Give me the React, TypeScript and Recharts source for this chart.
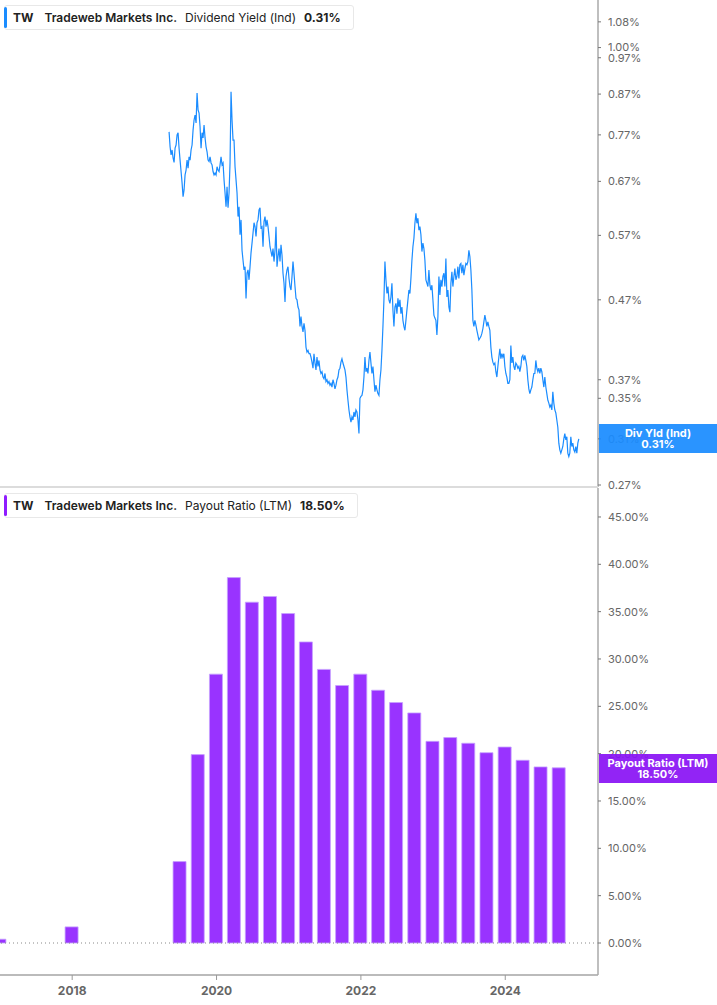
import React from 'react';
import { LineChart, Line, ComposedChart, Bar, XAxis, YAxis, ReferenceLine } from 'recharts';

const FONT = 'Inter, "Noto Sans", sans-serif';

// Dividend yield (Ind), %, sampled evenly between the first and last date
const yieldFirstDate = '2019-05-06';
const yieldLastDate = '2025-01-08';
const yieldValues = [
  0.777, 0.743, 0.725, 0.736, 0.719, 0.709, 0.740, 0.747, 0.770, 0.775,
  0.740, 0.714, 0.690, 0.667, 0.640, 0.653, 0.683, 0.693, 0.714, 0.697,
  0.721, 0.714, 0.736, 0.747, 0.781, 0.805, 0.817, 0.798, 0.873, 0.830,
  0.822, 0.789, 0.740, 0.775, 0.763, 0.793, 0.763, 0.743, 0.732, 0.714,
  0.711, 0.721, 0.708, 0.704, 0.690, 0.683, 0.687, 0.683, 0.700, 0.693,
  0.690, 0.704, 0.721, 0.704, 0.708, 0.673, 0.647, 0.621, 0.659, 0.619,
  0.647, 0.708, 0.876, 0.805, 0.758, 0.758, 0.700, 0.673, 0.647, 0.603,
  0.621, 0.571, 0.597, 0.545, 0.529, 0.514, 0.519, 0.472, 0.509, 0.514,
  0.499, 0.519, 0.541, 0.557, 0.574, 0.592, 0.585, 0.568, 0.592, 0.597,
  0.615, 0.619, 0.583, 0.585, 0.551, 0.594, 0.603, 0.585, 0.597, 0.585,
  0.568, 0.551, 0.543, 0.535, 0.548, 0.527, 0.545, 0.585, 0.519, 0.535,
  0.548, 0.527, 0.554, 0.537, 0.509, 0.494, 0.467, 0.504, 0.514, 0.519,
  0.501, 0.489, 0.484, 0.504, 0.527, 0.509, 0.489, 0.472, 0.470, 0.460,
  0.456, 0.434, 0.447, 0.434, 0.427, 0.438, 0.429, 0.408, 0.402, 0.404,
  0.400, 0.400, 0.396, 0.390, 0.383, 0.400, 0.389, 0.381, 0.396, 0.385,
  0.392, 0.381, 0.377, 0.379, 0.373, 0.371, 0.377, 0.368, 0.370, 0.366,
  0.368, 0.364, 0.366, 0.362, 0.370, 0.366, 0.360, 0.364, 0.370, 0.373,
  0.381, 0.383, 0.390, 0.394, 0.389, 0.385, 0.381, 0.373, 0.359, 0.348,
  0.338, 0.331, 0.326, 0.331, 0.328, 0.336, 0.331, 0.338, 0.336, 0.328,
  0.315, 0.350, 0.352, 0.353, 0.359, 0.373, 0.396, 0.379, 0.383, 0.377,
  0.392, 0.402, 0.389, 0.377, 0.385, 0.370, 0.357, 0.364, 0.359, 0.355,
  0.353, 0.370, 0.381, 0.404, 0.434, 0.470, 0.527, 0.499, 0.479, 0.489,
  0.470, 0.465, 0.474, 0.494, 0.456, 0.434, 0.460, 0.465, 0.451, 0.472,
  0.460, 0.470, 0.451, 0.460, 0.442, 0.434, 0.429, 0.442, 0.456, 0.470,
  0.484, 0.479, 0.501, 0.529, 0.551, 0.565, 0.591, 0.609, 0.591, 0.600,
  0.579, 0.585, 0.571, 0.543, 0.557, 0.548, 0.529, 0.499, 0.494, 0.489,
  0.514, 0.491, 0.484, 0.491, 0.470, 0.449, 0.445, 0.442, 0.423, 0.447,
  0.504, 0.477, 0.499, 0.489, 0.504, 0.509, 0.489, 0.532, 0.474, 0.484,
  0.460, 0.453, 0.494, 0.511, 0.489, 0.504, 0.516, 0.499, 0.504, 0.519,
  0.501, 0.522, 0.524, 0.509, 0.522, 0.506, 0.516, 0.524, 0.522, 0.527,
  0.545, 0.535, 0.514, 0.484, 0.442, 0.434, 0.442, 0.436, 0.429, 0.423,
  0.417, 0.419, 0.421, 0.425, 0.431, 0.440, 0.449, 0.442, 0.434, 0.440,
  0.434, 0.429, 0.408, 0.396, 0.390, 0.387, 0.389, 0.379, 0.373, 0.385,
  0.396, 0.406, 0.394, 0.400, 0.396, 0.400, 0.385, 0.377, 0.373, 0.366,
  0.366, 0.370, 0.410, 0.389, 0.396, 0.385, 0.381, 0.389, 0.387, 0.383,
  0.385, 0.379, 0.385, 0.396, 0.398, 0.392, 0.398, 0.392, 0.385, 0.370,
  0.360, 0.355, 0.359, 0.362, 0.370, 0.377, 0.377, 0.392, 0.383, 0.379,
  0.383, 0.377, 0.383, 0.379, 0.370, 0.362, 0.373, 0.362, 0.355, 0.348,
  0.345, 0.341, 0.343, 0.338, 0.357, 0.345, 0.338, 0.335, 0.328, 0.321,
  0.306, 0.300, 0.297, 0.300, 0.303, 0.310, 0.315, 0.309, 0.312, 0.297,
  0.294, 0.297, 0.312, 0.303, 0.306, 0.300, 0.298, 0.303, 0.297, 0.306,
  0.310,
];
const yieldTicks = [0.27, 0.31, 0.35, 0.37, 0.47, 0.57, 0.67, 0.77, 0.87, 0.97, 1.0, 1.08];

// Payout ratio (LTM), %, quarter ends
const payoutDates = [
  '2016-12-31', '2017-12-31',
  '2019-06-30', '2019-09-30', '2019-12-31',
  '2020-03-31', '2020-06-30', '2020-09-30', '2020-12-31',
  '2021-03-31', '2021-06-30', '2021-09-30', '2021-12-31',
  '2022-03-31', '2022-06-30', '2022-09-30', '2022-12-31',
  '2023-03-31', '2023-06-30', '2023-09-30', '2023-12-31',
  '2024-03-31', '2024-06-30', '2024-09-30',
];
const payoutValues = [
  0.4, 1.7,
  8.6, 19.9, 28.4,
  38.6, 36.0, 36.6, 34.8,
  31.8, 28.9, 27.2, 28.4,
  26.7, 25.4, 24.3, 21.3,
  21.7, 21.1, 20.1, 20.7,
  19.3, 18.6, 18.5,
];
const payoutTicks = [0, 5, 10, 15, 20, 25, 30, 35, 40, 45];
const yearTicks = [2018, 2020, 2022, 2024];

const X_DOMAIN: [number, number] = [2017.0, 2025.285];

function toYear(iso: string) {
  const d = new Date(iso + 'T00:00:00Z');
  const y = d.getUTCFullYear();
  const start = Date.UTC(y, 0, 1);
  const end = Date.UTC(y + 1, 0, 1);
  return y + (d.getTime() - start) / (end - start);
}

const y0 = toYear(yieldFirstDate);
const y1 = toYear(yieldLastDate);
const yieldData = yieldValues.map((v, i) => ({
  t: y0 + ((y1 - y0) * i) / (yieldValues.length - 1),
  v,
}));
const payoutData = payoutDates.map((d, i) => ({ t: toYear(d), v: payoutValues[i] }));

const tickStyle = { fill: '#666', fontSize: 11, fontFamily: FONT };

function LegendBox({ color, metric, value, top }: { color: string; metric: string; value: string; top: number }) {
  return (
    <div
      style={{
        position: 'absolute',
        left: 4,
        top,
        height: 25,
        display: 'flex',
        alignItems: 'center',
        gap: 8,
        padding: '0 12px 0 8px',
        background: '#fff',
        border: '1px solid #e8e8e8',
        borderRadius: 3,
        fontFamily: FONT,
        fontSize: 12,
        color: '#222',
        boxSizing: 'border-box',
      }}
    >
      <div style={{ position: 'absolute', left: -1, top: 1, bottom: 1, width: 3, background: color, borderRadius: 2 }} />
      <span style={{ fontWeight: 700, marginRight: 3 }}>TW</span>
      <span style={{ fontWeight: 600 }}>Tradeweb Markets Inc.</span>
      <span style={{ fontWeight: 400 }}>{metric}</span>
      <span style={{ fontWeight: 700 }}>{value}</span>
    </div>
  );
}

function ValueTag({ color, title, value, top }: { color: string; title: string; value: string; top: number }) {
  return (
    <div
      style={{
        position: 'absolute',
        left: 599,
        top,
        width: 118,
        height: 29,
        background: color,
        opacity: 0.93,
        color: '#fff',
        fontFamily: FONT,
        fontSize: 11,
        fontWeight: 700,
        lineHeight: '11px',
        display: 'flex',
        flexDirection: 'column',
        alignItems: 'center',
        justifyContent: 'center',
      }}
    >
      <div>{title}</div>
      <div>{value}</div>
    </div>
  );
}

export default function App() {
  return (
    <div style={{ position: 'absolute', left: 0, top: 0, width: 717, height: 1005, background: '#fff', overflow: 'hidden' }}>
      <div style={{ position: 'absolute', left: 0, top: 0 }}>
        <LineChart width={717} height={497} data={yieldData} margin={{ top: 0, right: 0, bottom: 10, left: 0 }}>
          <XAxis type="number" dataKey="t" domain={X_DOMAIN} allowDataOverflow hide />
          <YAxis
            orientation="right"
            width={119}
            type="number"
            scale="log"
            domain={[0.2684, 1.153]}
            allowDataOverflow
            ticks={yieldTicks}
            interval={0}
            tickFormatter={(v: number) => v.toFixed(2) + '%'}
            tick={tickStyle}
            tickSize={3}
            tickMargin={7}
            axisLine={{ stroke: '#aaa', strokeWidth: 1.5 }}
            tickLine={{ stroke: '#777' }}
          />
          <Line
            type="linear"
            dataKey="v"
            stroke="#1a8cff"
            strokeWidth={1.2}
            dot={false}
            activeDot={false}
            isAnimationActive={false}
          />
        </LineChart>
      </div>

      <div style={{ position: 'absolute', left: 0, top: 486, width: 598, height: 2, background: '#dcdcdc' }} />

      <div style={{ position: 'absolute', left: 0, top: 488 }}>
        <ComposedChart width={717} height={517} data={payoutData} margin={{ top: 0, right: 0, bottom: 0, left: 0 }}>
          <XAxis
            type="number"
            dataKey="t"
            domain={X_DOMAIN}
            allowDataOverflow
            ticks={yearTicks}
            interval={0}
            height={30}
            tickFormatter={(v: number) => String(v)}
            tick={{ fill: '#666', fontSize: 12, fontWeight: 700, fontFamily: FONT }}
            tickSize={5}
            tickMargin={6}
            axisLine={{ stroke: '#bbb', strokeWidth: 2 }}
            tickLine={{ stroke: '#999' }}
          />
          <YAxis
            orientation="right"
            width={119}
            type="number"
            domain={[-3.38, 48.06]}
            allowDataOverflow
            ticks={payoutTicks}
            interval={0}
            tickFormatter={(v: number) => v.toFixed(2) + '%'}
            tick={tickStyle}
            tickSize={3}
            tickMargin={7}
            axisLine={{ stroke: '#aaa', strokeWidth: 1.5 }}
            tickLine={{ stroke: '#777' }}
          />
          <ReferenceLine y={0} stroke="#888" strokeDasharray="1 3" />
          <Bar dataKey="v" fill="#9933ff" stroke="#c7a2ff" strokeWidth={0.8} barSize={13} isAnimationActive={false} />
        </ComposedChart>
      </div>

      <LegendBox color="#1a8cff" metric="Dividend Yield (Ind)" value="0.31%" top={5} />
      <LegendBox color="#8f1cff" metric="Payout Ratio (LTM)" value="18.50%" top={493} />

      <ValueTag color="#1a8cff" title="Div Yld (Ind)" value="0.31%" top={424} />
      <ValueTag color="#8a14f5" title="Payout Ratio (LTM)" value="18.50%" top={754} />
    </div>
  );
}
